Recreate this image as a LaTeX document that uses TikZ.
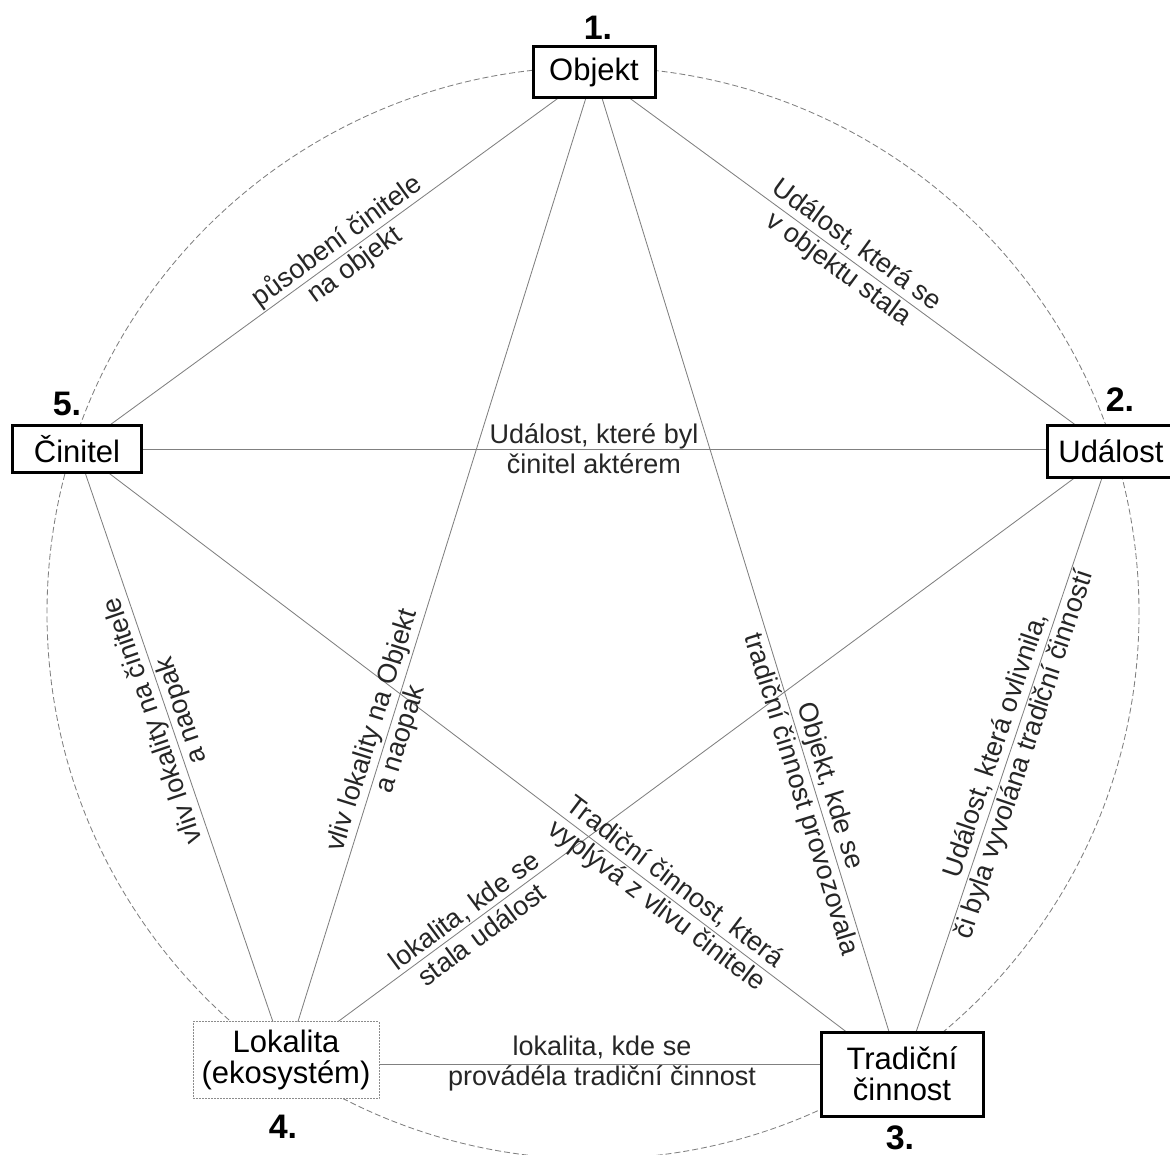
\documentclass[tikz,border=0pt]{standalone}
\usepackage{fontspec}
\setmainfont{Liberation Sans}
\usetikzlibrary{backgrounds,calc}
\begin{document}
\begin{tikzpicture}[x=1pt,y=-1pt,
  box/.style={draw=black, line width=3pt, fill=white, inner sep=0pt,
    font=\fontsize{31}{31}\selectfont, align=center},
  lokbox/.style={box, draw=black!45, line width=1pt, dash pattern=on 2pt off 1pt},
  conn/.style={draw=black!50, line width=0.85pt},
  ring/.style={draw=black!50, line width=0.85pt, dash pattern=on 6pt off 3pt},
  lbl/.style={font=\fontsize{27}{30}\selectfont, text=black!85, align=center, inner sep=0pt},
  num/.style={font=\fontsize{34}{38}\selectfont\bfseries, inner sep=0pt}
]
\useasboundingbox (0,0) rectangle (1170,1155);

% boxes
\node[box, minimum width=122pt, minimum height=51pt] (obj) at (594,72) {Objekt};
\node[box, minimum width=129pt, minimum height=47pt] (cin) at (77,449) {Činitel};
\node[box, minimum width=128pt, minimum height=52pt] (uda) at (1111,451) {Událost};
\node[lokbox, minimum width=186pt, minimum height=77pt] (lok) at (286,1060) {Lokalita\\(ekosystém)};
\node[box, minimum width=162pt, minimum height=84pt] (tra) at (902,1074) {Tradiční\\činnost};

% numbers
\node[num] (n1) at (598,28) {1.};
\node[num] (n2) at (1120,400) {2.};
\node[num] (n3) at (900,1138) {3.};
\node[num] (n4) at (283,1127) {4.};
\node[num] (n5) at (67,404) {5.};

\begin{scope}[on background layer]
  \coordinate (cc) at (593,613);
  \draw[ring] (cc) circle[radius=546pt];
  \draw[conn] (obj.center) -- (cin.center);
  \draw[conn] (obj.center) -- (uda.center);
  \draw[conn] (obj.center) -- (lok.center);
  \draw[conn] (obj.center) -- (tra.center);
  \draw[conn] (cin.center) -- (cin.center -| uda.center);
  \draw[conn] (cin.center) -- (lok.center);
  \draw[conn] (cin.center) -- (tra.center);
  \draw[conn] (uda.center) -- (lok.center);
  \draw[conn] (uda.center) -- (tra.center);
  \draw[conn] ([yshift=-4pt]lok.center) -- ([yshift=10pt]tra.center);
\end{scope}

% labels
\path (cin.center) -- node[lbl, sloped, pos=0.52] (l1) {působení činitele\\na objekt} (obj.center);
\path (obj.center) -- node[lbl, sloped, pos=0.49] (l2) {Událost, která se\\v objektu stala} (uda.center);
\path (cin.center) -- node[lbl, pos=0.5] (l3) {Událost, které byl\\činitel aktérem} (cin.center -| uda.center);
\path (lok.center) -- node[lbl, sloped, allow upside down, pos=0.564] (l4) {vliv lokality na činitele\\a naopak} (cin.center);
\path (lok.center) -- node[lbl, sloped, pos=0.329] (l5) {vliv lokality na Objekt\\a naopak} (obj.center);
\path (obj.center) -- node[lbl, sloped, pos=0.717] (l6) {Objekt, kde se\\tradiční činnost provozovala} (tra.center);
\path (tra.center) -- node[lbl, sloped, pos=0.52] (l7) {Událost, která ovlivnila,\\či byla vyvolána tradiční činností} (uda.center);
\path (cin.center) -- node[lbl, sloped, pos=0.713] (l8) {Tradiční činnost, která\\vyplývá z vlivu činitele} (tra.center);
\path (lok.center) -- node[lbl, sloped, pos=0.226] (l9) {lokalita, kde se\\stala událost} (uda.center);
\path ([yshift=-4pt]lok.center) -- node[lbl, pos=0.513] (l10) {lokalita, kde se\\provádéla tradiční činnost} ([yshift=10pt]tra.center);
\end{tikzpicture}
\end{document}
